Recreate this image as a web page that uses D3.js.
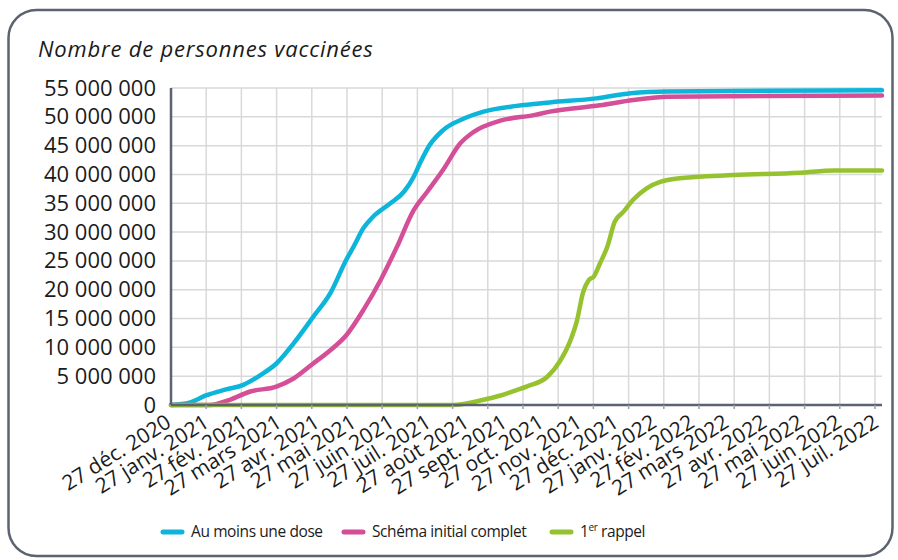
<!DOCTYPE html>
<html>
<head>
<meta charset="utf-8">
<script src="https://cdn.jsdelivr.net/npm/d3@7"></script>
<style>
  body { margin: 0; background: #fff; }
  svg { display: block; font-family: "Open Sans", sans-serif; }
</style>
</head>
<body>
<svg id="chart" width="898" height="560"></svg>
<script>
// values in millions of people
const doseDates = ["2020-12-27","2021-01-11","2021-01-25","2021-02-10","2021-02-24","2021-03-10","2021-03-23","2021-04-06","2021-04-22","2021-05-06","2021-05-19","2021-05-25","2021-06-02","2021-06-10","2021-06-24","2021-07-05","2021-07-13","2021-07-18","2021-07-26","2021-08-06","2021-08-23","2021-09-08","2021-10-05","2021-11-01","2021-12-09","2022-01-06","2022-02-05","2022-07-30"];
const doseValues = [0, 0.4, 1.7, 2.7, 3.5, 5.2, 7.2, 10.7, 15.3, 19.4, 25.2, 27.5, 30.7, 32.7, 35.0, 37.0, 39.6, 41.9, 45.1, 47.7, 49.7, 50.9, 51.9, 52.5, 53.2, 54.1, 54.4, 54.6];

const fullDates = ["2020-12-27","2021-01-28","2021-02-13","2021-03-01","2021-03-23","2021-04-06","2021-04-22","2021-05-06","2021-05-19","2021-06-02","2021-06-16","2021-06-29","2021-07-13","2021-07-24","2021-08-06","2021-08-20","2021-08-31","2021-09-21","2021-10-19","2021-11-01","2021-12-12","2022-01-08","2022-02-05","2022-07-30"];
const fullValues = [0, 0, 0.9, 2.3, 3.2, 4.6, 7.2, 9.5, 12.1, 16.5, 21.7, 27.3, 33.8, 37.0, 40.8, 45.4, 47.4, 49.3, 50.3, 50.9, 52.0, 52.9, 53.5, 53.7];

const boosterDates = ["2020-12-27","2021-08-14","2021-09-08","2021-09-21","2021-10-05","2021-10-13","2021-10-30","2021-11-09","2021-11-18","2021-11-23","2021-11-28","2021-12-03","2021-12-07","2021-12-12","2021-12-18","2021-12-24","2021-12-31","2022-01-08","2022-01-19","2022-01-30","2022-02-13","2022-03-31","2022-05-24","2022-06-21","2022-07-30"];
const boosterValues = [0, 0, 0.9, 1.6, 2.6, 3.2, 4.9, 7.5, 11.3, 14.5, 19.4, 21.7, 22.3, 24.6, 27.5, 31.8, 33.5, 35.6, 37.6, 38.7, 39.3, 39.9, 40.3, 40.7, 40.7];

const seriesNames = ["Au moins une dose", "Schéma initial complet", "1er rappel"];
const seriesColors = ["#0db5da", "#d44f97", "#97c230"];

const yTicks = [0, 5, 10, 15, 20, 25, 30, 35, 40, 45, 50, 55];
const monthLabels = ["déc.","janv.","fév.","mars","avr.","mai","juin","juil.","août","sept.","oct.","nov."];
const labelDates = d3.timeMonth.range(new Date(2020, 11, 1), new Date(2022, 7, 1)).map(d => new Date(d.getFullYear(), d.getMonth(), 27));
const gridCount = 21;

const parse = d3.timeParse("%Y-%m-%d");
const series = [
  { name: seriesNames[0], color: seriesColors[0], values: doseDates.map((d, i) => ({ date: parse(d), v: doseValues[i] })) },
  { name: seriesNames[1], color: seriesColors[1], values: fullDates.map((d, i) => ({ date: parse(d), v: fullValues[i] })) },
  { name: seriesNames[2], color: seriesColors[2], values: boosterDates.map((d, i) => ({ date: parse(d), v: boosterValues[i] })) }
];

const svg = d3.select("#chart");
const plotL = 171, plotR = 882, plotT = 88, plotB = 405;

// frame
svg.append("rect").attr("x", 8.5).attr("y", 10).attr("width", 884).attr("height", 546).attr("rx", 28)
  .attr("fill", "#fff").attr("stroke", "#5b6270").attr("stroke-width", 2.5);

svg.append("text").attr("x", 38).attr("y", 57).attr("font-size", 22).attr("font-style", "italic")
  .attr("letter-spacing", 0.8).attr("fill", "#1b1b1b").text("Nombre de personnes vaccinées");

const x = d3.scaleTime().domain([parse("2020-12-27"), parse("2022-07-30")]).range([plotL, plotR]);
const y = d3.scaleLinear().domain([0, 55]).range([plotB, plotT]);
const gridX = d3.scaleLinear().domain([0, gridCount - 1]).range([plotL, 875]);

// grid
svg.append("g").selectAll("line").data(yTicks.slice(1)).join("line")
  .attr("x1", plotL).attr("x2", plotR).attr("y1", d => y(d)).attr("y2", d => y(d))
  .attr("stroke", "#d9d9d9").attr("stroke-width", 1.5);
svg.append("g").selectAll("line").data(d3.range(1, gridCount)).join("line")
  .attr("x1", d => gridX(d)).attr("x2", d => gridX(d)).attr("y1", plotT).attr("y2", plotB)
  .attr("stroke", "#d9d9d9").attr("stroke-width", 1.5);

// y axis labels
const yAxis = svg.append("g").attr("transform", `translate(${plotL},0)`)
  .call(d3.axisLeft(y).tickValues(yTicks).tickSize(0).tickPadding(15)
    .tickFormat(d => d === 0 ? "0" : d3.format(",")(d * 1e6).replace(/,/g, " ")));
yAxis.select(".domain").remove();
yAxis.selectAll("text").attr("font-size", 22).attr("font-family", "Open Sans, sans-serif").attr("fill", "#1b1b1b");

// lines
const line = d3.line().x(d => x(d.date)).y(d => y(d.v)).curve(d3.curveMonotoneX);
svg.append("g").selectAll("path").data(series).join("path")
  .attr("d", d => line(d.values)).attr("fill", "none").attr("stroke", d => d.color)
  .attr("stroke-width", 4.5).attr("stroke-linejoin", "round").attr("stroke-linecap", "round");

// axes lines
svg.append("line").attr("x1", plotL).attr("x2", plotL).attr("y1", plotT).attr("y2", plotB)
  .attr("stroke", "#5b6270").attr("stroke-width", 2.5);
svg.append("line").attr("x1", plotL).attr("x2", plotR).attr("y1", plotB).attr("y2", plotB)
  .attr("stroke", "#5b6270").attr("stroke-width", 2.5);
svg.append("g").selectAll("line").data(d3.range(1, gridCount)).join("line")
  .attr("x1", d => gridX(d)).attr("x2", d => gridX(d)).attr("y1", plotB).attr("y2", plotB + 4)
  .attr("stroke", "#9aa0aa").attr("stroke-width", 1.5);

// x axis labels
const xAxis = svg.append("g").attr("transform", `translate(0,${plotB})`)
  .call(d3.axisBottom(x).tickValues(labelDates).tickSize(0)
    .tickFormat(d => `27 ${monthLabels[(d.getMonth() + 1) % 12]} ${d.getFullYear()}`));
xAxis.select(".domain").remove();
xAxis.selectAll("text")
  .attr("font-size", 21).attr("font-family", "Open Sans, sans-serif").attr("fill", "#1b1b1b")
  .attr("text-anchor", "end").attr("dy", null).attr("y", 0)
  .attr("transform", "translate(1,21) rotate(-32)");

// legend
const legendX = [163, 344, 552];
const legend = svg.append("g").selectAll("g").data(series).join("g")
  .attr("transform", (d, i) => `translate(${legendX[i]},532)`);
legend.append("line").attr("x1", 0).attr("x2", 19).attr("stroke", d => d.color)
  .attr("stroke-width", 5).attr("stroke-linecap", "round");
legend.append("text").attr("x", 28).attr("dy", "0.35em").attr("font-size", 15.5).attr("letter-spacing", -0.4)
  .attr("fill", "#1b1b1b")
  .each(function (d) {
    const t = d3.select(this);
    if (d.name === "1er rappel") {
      t.append("tspan").text("1");
      t.append("tspan").attr("font-size", 10).attr("dy", "-0.6em").text("er");
      t.append("tspan").attr("dy", "0.38em").text(" rappel");
    } else t.text(d.name);
  });
</script>
</body>
</html>
